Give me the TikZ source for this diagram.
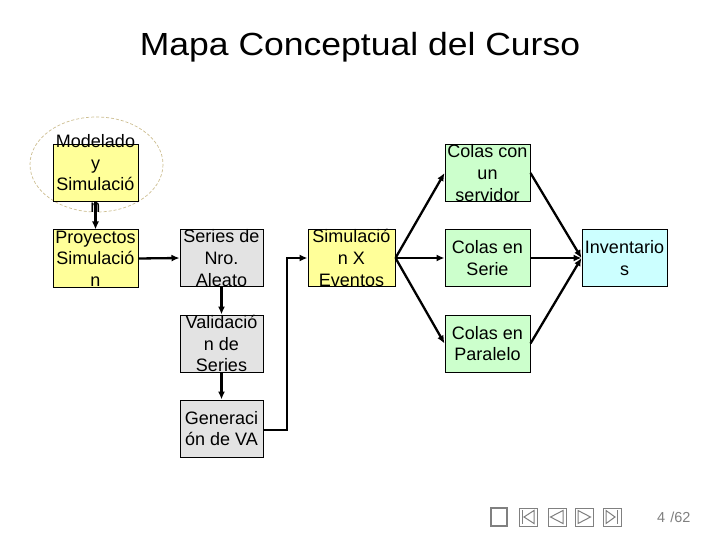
\documentclass[tikz,border=0pt]{standalone}
\usepackage{fontspec}
\setmainfont{Liberation Sans}
\usetikzlibrary{arrows.meta,calc}
\definecolor{ylw}{HTML}{FFFF99}
\definecolor{gry}{HTML}{E3E3E3}
\definecolor{grn}{HTML}{CCFFCC}
\definecolor{cyn}{HTML}{CCFFFF}
\definecolor{ell}{HTML}{CDBE90}
\definecolor{navgray}{HTML}{808080}
\begin{document}
\begin{tikzpicture}[x=1pt,y=-1pt,
  box/.style={draw=black,line width=1pt,minimum width=85pt,minimum height=57pt,inner sep=0pt},
  txt/.style={font=\fontsize{18}{21.6}\selectfont,align=center,inner sep=0pt},
  conn/.style={draw=black,line width=2.3pt,-{Latex[length=8pt,width=7pt]}},
  nav/.style={draw=navgray,line width=1pt}]
\useasboundingbox (0,0) rectangle (720,540);
\fill[white] (0,0) rectangle (720,540);

% title
\node[anchor=base,inner sep=0pt,font=\fontsize{32}{38}\selectfont,xscale=1.11] (title) at (360,56) {Mapa Conceptual del Curso};

% dashed ellipse
\draw[ell,line width=0.7pt,dash pattern=on 3pt off 2pt] (96.5,164.5) ellipse [x radius=66.5,y radius=47.5];

% boxes
\node[box,fill=ylw] (mys) at (95.5,173.5) {};
\node[box,fill=ylw] (proy) at (95.5,258.5) {};
\node[box,fill=gry,minimum width=83pt] (series) at (221.5,258) {};
\node[box,fill=gry,minimum width=83pt] (valid) at (221.5,343.5) {};
\node[box,fill=gry,minimum width=83pt] (gen) at (221.5,428.5) {};
\node[box,fill=ylw,minimum width=87pt] (simx) at (351.5,258) {};
\node[box,fill=grn] (c1) at (487.5,173) {};
\node[box,fill=grn] (c2) at (487.5,258) {};
\node[box,fill=grn] (c3) at (487.5,343.5) {};
\node[box,fill=cyn] (inv) at (624.5,258) {};

% connectors
\draw[conn] (mys.south) -- (proy.north);
\draw[conn] (proy.east) -- (series.west);
\draw[conn] (series.south) -- (valid.north);
\draw[conn] (valid.south) -- (gen.north);
\coordinate (bend) at (287,430);
\draw[conn] (gen.east |- bend) -- (bend) |- (simx.west);
\draw[conn] (simx.east) -- (c1.west);
\draw[conn] (simx.east) -- (c2.west);
\draw[conn] (simx.east) -- (c3.west);
\draw[conn] (c1.east) -- (inv.west);
\draw[conn] (c2.east) -- (inv.west);
\draw[conn] (c3.east) -- (inv.west);

% texts
\node[txt] (mysT) at (mys.center) {Modelado\\y\\Simulació\\n};
\node[txt] (proyT) at (proy.center) {Proyectos\\Simulació\\n};
\node[txt] (seriesT) at (series.center) {Series de\\Nro.\\Aleato};
\node[txt] (validT) at (valid.center) {Validació\\n de\\Series};
\node[txt] (genT) at (gen.center) {Generaci\\ón de VA};
\node[txt] (simxT) at (simx.center) {Simulació\\n X\\Eventos};
\node[txt] (c1T) at (c1.center) {Colas con\\un\\servidor};
\node[txt] (c2T) at (c2.center) {Colas en\\Serie};
\node[txt] (c3T) at (c3.center) {Colas en\\Paralelo};
\node[txt] (invT) at (inv.center) {Inventario\\s};

% navigation icons
\draw[navgray,line width=2.2pt] (491,508) rectangle (507,526);
\draw[nav] (519,508) rectangle (537,526);
\draw[nav] (522.5,510) -- (522.5,524);
\draw[nav] (524,517) -- (534,510.5) -- (534,523.5) -- cycle;
\draw[nav] (548,508) rectangle (566,526);
\draw[nav] (550.5,517) -- (563,510.5) -- (563,523.5) -- cycle;
\draw[nav] (575,508) rectangle (593,526);
\draw[nav] (590.5,517) -- (578,510.5) -- (578,523.5) -- cycle;
\draw[nav] (603,508) rectangle (621,526);
\draw[nav] (615,517) -- (606,510.5) -- (606,523.5) -- cycle;
\draw[nav] (617.5,510) -- (617.5,524);
\node[navgray,font=\fontsize{14.5}{16}\selectfont,anchor=base west,inner sep=0pt] (page) at (657,522) {4\hspace{5pt}/62};
\end{tikzpicture}
\end{document}
